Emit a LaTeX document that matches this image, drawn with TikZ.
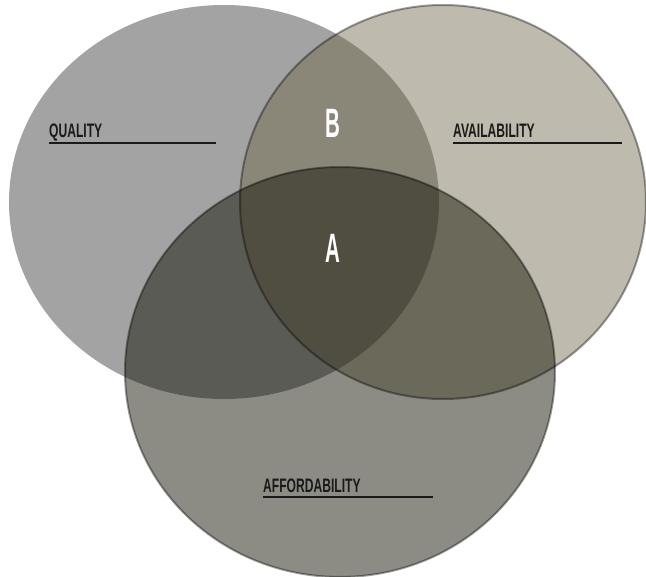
\documentclass[tikz,border=0pt]{standalone}
\usepackage{fontspec}
\newfontfamily\labfont[FakeStretch=0.62]{Liberation Sans}
\newfontfamily\letfont[FakeStretch=0.5]{Liberation Sans}
\definecolor{cL}{HTML}{A3A3A3}
\definecolor{cR}{HTML}{BEBAAE}
\definecolor{cB}{HTML}{8C8C85}
\definecolor{cLR}{HTML}{8A8678}
\definecolor{cLB}{HTML}{5B5B55}
\definecolor{cRB}{HTML}{6B6959}
\definecolor{cLRB}{HTML}{504E41}
\definecolor{ink}{HTML}{1A1A1A}
\begin{document}
\begin{tikzpicture}[x=1pt,y=-1pt,
  lab/.style={font=\labfont\bfseries\fontsize{19.5}{20}\selectfont, text=ink, inner sep=0pt, anchor=base west},
  letter/.style={font=\letfont\bfseries\fontsize{41}{44}\selectfont, text=white, inner sep=0pt, anchor=base},
  uline/.style={draw=ink, line width=1.5pt},
  rim/.style={draw=black, draw opacity=0.38, line width=2pt}]
\useasboundingbox (0,0) rectangle (646,577);
\def\Lell{(224,202) ellipse [x radius=215pt, y radius=197pt]}
\def\Rell{(443,202) ellipse [x radius=203pt, y radius=197pt]}
\def\Bell{(340,372) ellipse [x radius=215pt, y radius=205pt]}
% single regions
\fill[cL] \Lell;
\fill[cR] \Rell;
\fill[cB] \Bell;
% pairwise overlaps
\begin{scope}\clip \Lell; \fill[cLR] \Rell; \end{scope}
\begin{scope}\clip \Lell; \fill[cLB] \Bell; \end{scope}
\begin{scope}\clip \Rell; \fill[cRB] \Bell; \end{scope}
% triple overlap
\begin{scope}\clip \Lell; \clip \Rell; \fill[cLRB] \Bell; \end{scope}
% rims
\draw[rim] \Rell;
\draw[rim] \Bell;
% labels
\node[lab] (q) at (49,138) {QUALITY};
\draw[uline] (49,143) -- (216,143);
\node[lab] (av) at (453,138) {AVAILABILITY};
\draw[uline] (453,143) -- (622,143);
\node[lab] (af) at (263,493) {AFFORDABILITY};
\draw[uline] (263,497) -- (433,497);
\node[letter] (b) at (333,138) {B};
\node[letter] (a) at (333,263) {A};
\end{tikzpicture}
\end{document}
